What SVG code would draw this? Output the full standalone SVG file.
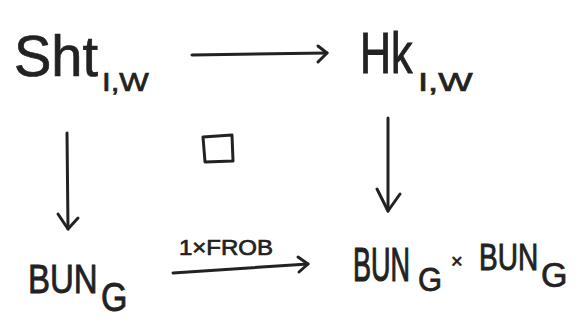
<svg xmlns="http://www.w3.org/2000/svg" width="579" height="328" viewBox="0 0 579 328">
  <style>
    .lbl { font-family: "Liberation Sans", "DejaVu Sans", sans-serif; fill: #222; stroke: #222; stroke-width: 0.7; }
    .arr { fill: none; stroke: #222; stroke-width: 3; stroke-linecap: round; stroke-linejoin: round; }
  </style>
  <rect width="579" height="328" fill="#ffffff"/>

  <g id="sht">
    <text class="lbl" transform="translate(14,76) scale(1,1.02)" font-size="56">Sht</text>
    <text class="lbl" transform="translate(102,91) scale(1.25,1)" font-size="25">I,W</text>
  </g>

  <g id="hk">
    <text class="lbl" transform="translate(360,73) scale(1,1.35)" font-size="43">Hk</text>
    <text class="lbl" transform="translate(418,91) scale(1.4,1)" font-size="26">I,W</text>
  </g>

  <g id="bun">
    <text class="lbl" transform="translate(28,293) scale(1,1.25)" font-size="33">BUN</text>
    <text class="lbl" transform="translate(101,311) scale(1,1.2)" font-size="34">G</text>
  </g>

  <g id="bun-product">
    <text class="lbl" transform="translate(353,281) scale(1,1.75)" font-size="27">BUN</text>
    <text class="lbl" transform="translate(418,291) scale(1,1.1)" font-size="31">G</text>
    <text class="lbl" x="451" y="268" font-size="20">×</text>
    <text class="lbl" transform="translate(479,270) scale(1,1.35)" font-size="28">BUN</text>
    <text class="lbl" transform="translate(541,287) scale(1,1.05)" font-size="34">G</text>
  </g>

  <g id="pullback-square">
    <path class="arr" d="M203 137 L232 135 L233 161 L205 162 Z" stroke-width="2.5"/>
  </g>

  <g id="connectors">
    <!-- Sht -> Hk -->
    <path class="arr" d="M192 55 L327 53"/>
    <path class="arr" d="M318 46 L327 53 L318 62"/>
    <!-- Sht -> Bun -->
    <path class="arr" d="M67 133 L68 229"/>
    <path class="arr" d="M58 214 L68 229 L78 218"/>
    <!-- Hk -> Bun x Bun -->
    <path class="arr" d="M388 118 L388 211"/>
    <path class="arr" d="M377 189 L388 211 L400 194"/>
    <!-- Bun -> Bun x Bun -->
    <path class="arr" d="M173 273 L308 264"/>
    <path class="arr" d="M298 257 L308 264 L299 272"/>
    <text class="lbl" x="179" y="255" font-size="22" stroke-width="0.5" textLength="94" lengthAdjust="spacingAndGlyphs">1×FROB</text>
  </g>
</svg>
